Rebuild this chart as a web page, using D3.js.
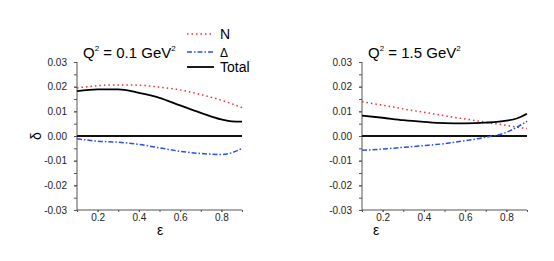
<!DOCTYPE html>
<html>
<head>
<meta charset="utf-8">
<script src="https://cdn.jsdelivr.net/npm/d3@7"></script>
<style>
body { margin: 0; background: #fff; }
text { font-family: "Liberation Sans", Arial, sans-serif; }
</style>
</head>
<body>
<svg id="chart" width="554" height="261"></svg>
<script>
const eps = [0.1, 0.2, 0.3, 0.4, 0.5, 0.6, 0.7, 0.8, 0.85, 0.9];

// Q^2 = 0.1 GeV^2
const nLow     = [0.0195, 0.0204, 0.0207, 0.0206, 0.0198, 0.0187, 0.0168, 0.0145, 0.0131, 0.0115];
const deltaLow = [-0.0011, -0.0021, -0.0025, -0.0034, -0.0048, -0.0062, -0.0071, -0.0075, -0.0068, -0.0050];
const totalLow = [0.0182, 0.0189, 0.0189, 0.0175, 0.0155, 0.0124, 0.0094, 0.0067, 0.0059, 0.0058];

// Q^2 = 1.5 GeV^2
const nHigh     = [0.0139, 0.0125, 0.0110, 0.0096, 0.0082, 0.0069, 0.0056, 0.0043, 0.0036, 0.0030];
const deltaHigh = [-0.0058, -0.0053, -0.0046, -0.0039, -0.0031, -0.0019, -0.0005, 0.0015, 0.0035, 0.0060];
const totalHigh = [0.0083, 0.0074, 0.0064, 0.0057, 0.0052, 0.0051, 0.0054, 0.0062, 0.0071, 0.0090];

const xTicks = [0.2, 0.4, 0.6, 0.8];
const yTicks = [0.03, 0.02, 0.01, 0.00, -0.01, -0.02, -0.03];

const svg = d3.select("#chart");

const panels = [
    {left: 77, title: "0.1", n: nLow, d: deltaLow, t: totalLow, yLabel: true, epsX: 160},
    {left: 362, title: "1.5", n: nHigh, d: deltaHigh, t: totalHigh, yLabel: false, epsX: 376}
];

const plotW = 165, plotTop = 62, plotH = 148;

panels.forEach(p => {
    const g = svg.append("g").attr("transform", `translate(${p.left},${plotTop})`);
    const x = d3.scaleLinear().domain([0.1, 0.9]).range([0, plotW]);
    const y = d3.scaleLinear().domain([-0.03, 0.03]).range([plotH, 0]);

    // minor ticks
    g.append("g")
        .call(d3.axisLeft(y).tickValues(d3.range(-0.03, 0.0301, 0.005)).tickSize(3).tickFormat(""))
        .call(a => a.select(".domain").remove())
        .selectAll("line").attr("stroke", "#555");
    const ya = g.append("g")
        .call(d3.axisLeft(y).tickValues(yTicks).tickSize(3).tickPadding(7).tickFormat(d3.format(".2f")));
    ya.select(".domain").attr("stroke", "#555").attr("d", `M0,0V${plotH}`);
    ya.selectAll("line").attr("stroke", "#555");
    ya.selectAll("text").attr("font-size", 10).attr("fill", "#222")
        .attr("font-family", "Liberation Sans, Arial, sans-serif")
        .text(d => d3.format(".2f")(d).replace("−", "-"));

    g.append("g").attr("transform", `translate(0,${plotH})`)
        .call(d3.axisBottom(x).tickValues(d3.range(0.1, 0.91, 0.1)).tickSize(2).tickFormat(""))
        .call(a => a.select(".domain").remove())
        .selectAll("line").attr("stroke", "#555");
    const xa = g.append("g").attr("transform", `translate(0,${plotH})`)
        .call(d3.axisBottom(x).tickValues(xTicks).tickSize(2).tickPadding(2).tickFormat(d3.format(".1f")));
    xa.select(".domain").attr("stroke", "#555").attr("d", `M0,0H${plotW}`);
    xa.selectAll("line").attr("stroke", "#555");
    xa.selectAll("text").attr("font-size", 10).attr("fill", "#222")
        .attr("font-family", "Liberation Sans, Arial, sans-serif");

    // zero line
    g.append("line")
        .attr("x1", x(0.1)).attr("x2", x(0.9))
        .attr("y1", y(0)).attr("y2", y(0))
        .attr("stroke", "#111").attr("stroke-width", 2);

    const line = vals => d3.line()
        .x((d, i) => x(eps[i]))
        .y(d => y(d))
        .curve(d3.curveMonotoneX)(vals);

    g.append("path").attr("d", line(p.n)).attr("fill", "none")
        .attr("stroke", "#ee3030").attr("stroke-width", 1.5).attr("stroke-dasharray", "1.5,3");
    g.append("path").attr("d", line(p.d)).attr("fill", "none")
        .attr("stroke", "#2a4ff0").attr("stroke-width", 1.5).attr("stroke-dasharray", "5,2,1.5,2");
    g.append("path").attr("d", line(p.t)).attr("fill", "none")
        .attr("stroke", "#000").attr("stroke-width", 1.8);

    // title
    const title = svg.append("text")
        .attr("x", p.left + 6).attr("y", 58)
        .attr("font-size", 15).attr("fill", "#000");
    title.append("tspan").text("Q");
    title.append("tspan").attr("font-size", 8).attr("dy", -7).text("2");
    title.append("tspan").attr("dy", 7).text(` = ${p.title} GeV`);
    title.append("tspan").attr("font-size", 8).attr("dy", -7).text("2");

    svg.append("text")
        .attr("x", p.epsX).attr("y", 235)
        .attr("text-anchor", "middle")
        .attr("font-size", 14).text("ε");

    if (p.yLabel) {
        svg.append("text")
            .attr("transform", `translate(41,136) rotate(-90)`)
            .attr("text-anchor", "middle")
            .attr("font-size", 14).text("δ");
    }
});

// legend
const legend = [
    {label: "N", color: "#ee3030", dash: "1.5,3", w: 1.5, y: 34},
    {label: "Δ", color: "#2a4ff0", dash: "5,2,1.5,2", w: 1.5, y: 52},
    {label: "Total", color: "#000", dash: null, w: 1.8, y: 67}
];
legend.forEach(l => {
    svg.append("line")
        .attr("x1", 187).attr("x2", 214).attr("y1", l.y).attr("y2", l.y)
        .attr("stroke", l.color).attr("stroke-width", l.w)
        .attr("stroke-dasharray", l.dash);
    svg.append("text")
        .attr("x", 220).attr("y", l.y + 5)
        .attr("font-size", l.label === "Δ" ? 12 : 14).text(l.label);
});
</script>
</body>
</html>
